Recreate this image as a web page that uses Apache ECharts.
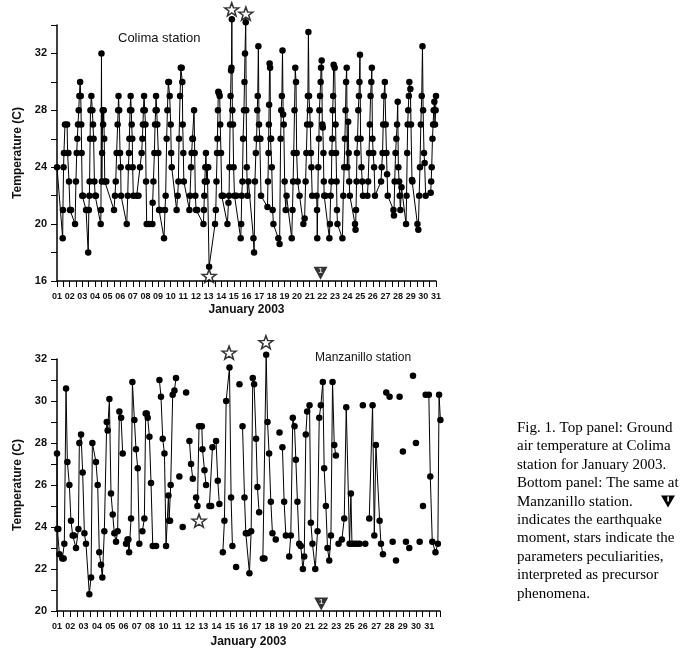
<!DOCTYPE html>
<html><head><meta charset="utf-8">
<script src="https://cdn.jsdelivr.net/npm/echarts/dist/echarts.min.js"></script>
<style>html,body{margin:0;padding:0;background:#fff}#c{width:692px;height:660px}</style>
</head><body><div id="c"></div>
<script>
// ---- Top panel: Colima station (time in days, temperature in C) ----
const colimaSeries = [
[1.00,24],[1.45,19],[1.47,21],[1.52,24],[1.55,25],[1.63,27],[1.80,27],[1.84,25],[1.90,25],[1.95,23],[2.03,21],[2.11,21],
[2.43,20],[2.50,23],[2.56,25],[2.61,26],[2.66,27],[2.72,28],[2.77,29],[2.83,30],[2.88,29],[2.92,27],[2.95,25],[3.00,22],[3.06,22],[3.30,21],[3.42,21],
[3.47,18],[3.52,21],[3.56,22],[3.58,23],[3.62,26],[3.65,28],[3.72,29],[3.80,28],[3.85,27],[3.90,26],[3.96,23],[4.02,22],[4.08,22],
[4.46,20],[4.48,21],[4.52,32],[4.55,23],[4.57,25],[4.62,28],[4.65,27],[4.70,28],[4.74,26],[4.78,23],[4.90,23],
[5.51,21],[5.59,22],[5.65,23],[5.72,25],[5.80,27],[5.84,28],[5.87,29],[5.92,28],[5.99,25],[6.04,24],[6.07,22],
[6.52,20],[6.60,22],[6.65,24],[6.70,25],[6.73,26],[6.78,28],[6.83,29],[6.88,28],[6.91,27],[6.96,26],[6.99,24],[7.04,22],[7.31,22],[7.45,22],
[7.57,24],[7.70,25],[7.76,26],[7.80,27],[7.84,28],[7.89,29],[7.95,28],[8.00,27],[8.05,23],[8.10,20],[8.30,20],
[8.55,20],[8.57,21.5],[8.63,23],[8.71,25],[8.76,27],[8.81,28],[8.84,29],[8.89,28],[8.94,27],[9.02,25],[9.08,21],[9.18,21],
[9.47,19],[9.55,21],[9.60,22],[9.68,26],[9.74,28],[9.81,30],[9.86,30],[9.92,29],[10.00,27],[10.04,25],[10.08,24],
[10.47,21],[10.55,22],[10.61,23],[10.66,26],[10.74,29],[10.80,31],[10.87,31],[10.92,30],[10.95,27],[11.00,25],[11.04,23],
[11.48,21],[11.53,22],[11.61,24],[11.66,25],[11.72,26],[11.76,26],[11.85,28],[11.90,25],[11.95,22],[12.01,21],[12.10,21],
[12.59,20],[12.63,21],[12.66,22],[12.70,23],[12.74,24],[12.79,25],[12.85,23],[12.90,24],[12.97,24],[13.04,17],
[13.51,20],[13.57,21],[13.62,23],[13.67,25],[13.70,26],[13.74,28],[13.77,29.3],[13.82,29.2],[13.88,29],[13.92,27],[13.98,25],[14.04,22],[14.15,22],
[14.49,20],[14.57,21.5],[14.62,22],[14.65,24],[14.70,27],[14.74,29],[14.78,30.8],[14.81,31],[14.84,34.4],[14.88,28],[14.93,27],[14.98,24],[15.05,22],[15.20,22],
[15.54,19],[15.58,20],[15.62,22],[15.68,23],[15.73,26],[15.80,28],[15.84,30],[15.88,32],[15.94,34.2],[15.98,28],[16.02,24],[16.08,22],[16.15,23],
[16.55,19],[16.60,18],[16.67,23],[16.74,25],[16.80,26],[16.85,28],[16.89,29],[16.94,32.5],[16.99,27],[17.05,26],[17.10,26],[17.15,22],
[17.66,21.2],[17.70,23],[17.74,25],[17.77,27],[17.79,28.4],[17.83,31.3],[17.87,31],[17.90,26],[17.95,26],[18.00,24],[18.07,21],[18.13,20],
[18.52,19],[18.62,18.6],[18.70,26],[18.75,28],[18.80,29],[18.85,32.2],[18.90,27.7],[18.95,27],[19.02,23],[19.10,21],[19.17,22],
[19.58,19],[19.64,21],[19.69,23],[19.74,25],[19.80,28],[19.86,31],[19.92,30],[19.97,25],[20.05,23],[20.20,22],
[20.50,20],[20.60,20.4],[20.68,23],[20.74,25],[20.80,27],[20.86,29],[20.90,33.5],[20.95,29],[21.00,28],[21.05,27],[21.10,25],[21.14,24],[21.20,22],
[21.55,22],[21.58,21],[21.60,19],[21.68,24],[21.73,26],[21.77,28],[21.82,29],[21.87,30],[21.90,31],[21.95,31.5],[22.00,27],[22.04,26.8],[22.09,25],[22.12,23],[22.15,22],[22.25,22],
[22.56,19],[22.60,20],[22.66,22],[22.72,23],[22.75,25],[22.79,26],[22.82,28],[22.86,29],[22.90,31.2],[22.98,31],[23.05,27],[23.09,25],[23.13,23],[23.16,21],[23.20,20],
[23.59,19],[23.66,22],[23.73,24],[23.79,26],[23.84,28],[23.88,30],[23.93,31],[23.98,24],[24.05,27.2],[24.09,25],[24.13,23],[24.18,22],
[24.59,20],[24.63,19.6],[24.67,21],[24.71,23],[24.74,25],[24.79,26],[24.85,28],[24.90,29],[24.94,30],[24.98,31.9],[25.03,26],[25.10,24],[25.16,23],[25.22,22],
[25.57,22],[25.63,23],[25.70,25],[25.76,27],[25.82,29],[25.88,30],[25.92,31],[25.97,26],[26.03,25],[26.10,24],[26.17,22],
[26.65,23],[26.70,24],[26.77,25],[26.82,27],[26.88,29],[26.95,30],[27.02,27],[27.08,25],[27.13,23.5],[27.18,22],
[27.63,21],[27.67,20.6],[27.73,23],[27.80,25],[27.86,26],[27.92,27],[27.97,28.6],[28.02,24],[28.08,23],[28.13,22],[28.18,21],[28.27,22.6],
[28.63,20],[28.67,22],[28.72,25],[28.76,27],[28.80,28],[28.85,29],[28.89,30],[28.97,29.5],[29.02,27],[29.10,23.1],[29.13,23],
[29.53,20],[29.60,19.6],[29.67,22],[29.73,24],[29.80,27],[29.87,29],[29.93,32.5],[29.98,28],[30.05,25],[30.10,24.3],[30.18,22],
[30.58,22.2],[30.62,23],[30.66,24],[30.72,26],[30.77,27],[30.82,28],[30.87,28.6],[30.92,27],[30.97,28],[31.00,29]
];
const colimaStars = [[14.83,35.1],[15.95,34.8],[13.04,16.35]];
const colimaQuake = [[21.86,16.55]];
const colimaTickLabels = ['01','02','03','04','05','06','07','08','09','10','11','12','13','14','15','16','17','18','19','20','21','22','23','24','25','26','27','28','29','30','31'];

// ---- Bottom panel: Manzanillo station (x = position among plotted days, null = gap) ----
const manzSeries = [
[0.00,27.5],[0.03,23.9],[0.10,23.9],[0.18,22.7],[0.40,22.5],[0.50,22.5],[0.55,23.2],[0.68,30.6],[0.78,27.1],[0.93,26.0],[1.05,24.3],[1.18,23.6],[1.28,23.6],[1.43,23.0],
[1.61,23.9],[1.68,28.0],[1.81,28.4],[1.93,26.6],[2.06,23.7],[2.18,23.2],[2.43,20.8],[2.56,21.6],[2.66,28.0],[2.93,27.1],[3.06,26.0],[3.18,22.8],[3.31,22.2],[3.41,21.6],
[3.56,23.8],[3.74,29.0],[3.81,28.6],[3.94,30.1],[4.06,25.6],[4.19,24.6],[4.31,23.7],[4.44,23.3],[4.56,23.8],[4.69,29.5],[4.82,29.2],[4.94,27.5],
null,
[5.19,23.2],[5.30,23.4],[5.37,23.4],[5.42,22.8],[5.57,24.4],[5.67,30.9],[5.82,29.1],[5.94,27.7],[6.07,26.8],[6.19,23.2],
null,
[6.42,23.8],[6.57,24.4],[6.67,29.4],[6.75,29.4],[6.82,29.2],[6.95,28.3],[7.07,26.1],[7.20,23.1],[7.45,23.1],
null,
[7.70,31.0],[7.82,30.2],[7.95,28.2],[8.08,27.5],[8.20,23.1],[8.38,25.5],[8.43,24.3],[8.50,24.3],[8.55,26.0],[8.70,30.3],[8.83,30.5],[8.95,31.1],
null,[9.20,26.4],null,[9.45,24.0],null,[9.71,30.4],null,
[9.96,28.1],[10.08,27.0],[10.21,26.3],
null,
[10.46,25.4],[10.56,25.0],[10.68,28.8],[10.89,28.8],[10.94,27.7],[11.09,26.7],[11.21,26.0],
null,
[11.46,25.0],[11.59,25.0],[11.69,27.8],[11.96,28.1],[12.09,26.2],[12.21,25.1],
null,
[12.47,22.8],[12.59,24.3],[12.72,30.0],[12.97,31.6],[13.09,25.4],[13.19,23.1],
null,[13.47,22.1],null,[13.72,30.8],null,
[13.95,28.8],[14.10,25.4],[14.20,23.7],[14.35,23.7],[14.47,21.8],[14.60,23.8],[14.72,31.1],[14.82,30.8],[14.97,28.2],[15.07,25.9],[15.20,24.7],
null,
[15.48,22.5],[15.60,22.5],[15.73,32.2],[15.83,29.0],[15.95,27.5],[16.08,25.2],[16.20,23.7],[16.45,23.4],
null,[16.73,28.5],null,
[16.95,27.8],[17.08,25.2],[17.21,23.6],
null,
[17.46,22.6],[17.58,23.6],[17.73,29.2],[17.86,28.8],[17.96,27.2],[18.08,25.2],[18.21,23.2],[18.33,23.1],[18.49,22.0],[18.59,22.6],[18.71,28.4],[18.81,29.5],
[18.99,29.8],[19.09,24.2],[19.21,23.2],[19.42,22.0],[19.59,23.8],[19.72,29.2],[19.84,29.8],[19.99,30.9],[20.09,26.8],[20.22,25.0],[20.34,23.0],[20.47,22.4],
[20.60,23.6],[20.72,30.9],[20.85,27.9],[20.97,27.4],
null,
[21.17,23.2],[21.42,23.4],[21.60,24.4],[21.75,29.7],[22.00,23.2],[22.10,25.6],[22.18,23.2],[22.35,23.2],[22.55,23.2],[22.75,23.2],
null,[23.00,29.8],null,[23.18,23.2],null,
[23.48,24.4],[23.73,29.8],[23.86,23.6],[23.98,27.9],[24.26,24.3],[24.36,23.2],[24.51,22.7],
null,[24.76,30.4],null,[25.01,30.2],null,[25.24,23.3],null,[25.49,22.4],null,[25.76,30.2],null,[26.01,27.6],null,
[26.24,23.3],null,[26.49,23.0],null,[26.77,31.2],null,[26.99,28.0],null,[27.27,23.3],null,[27.52,25.0],null,
[27.72,30.3],[27.96,30.3],[28.07,26.4],[28.22,23.3],[28.46,22.8],[28.64,23.2],[28.73,30.3],[28.83,29.1]
];
const manzStars = [[12.94,32.3],[10.68,24.3],[15.71,32.8]];
const manzQuake = [[19.87,20.33]];
const manzTickLabels = ['01','02','03','04','05','06','07','08','10','11','12','13','14','15','16','17','18','19','20','21','22','23','25','26','27','28','29','30','31'];

const captionLines = [
  'Fig. 1. Top panel: Ground',
  'air temperature at Colima',
  'station for January 2003.',
  'Bottom panel: The same at',
  'Manzanillo station.',
  'indicates the earthquake',
  'moment, stars indicate the',
  'parameters peculiarities,',
  'interpreted as precursor',
  'phenomena.'
];

const STAR = 'path://M12,0.5L14.9,8.6L23.5,8.8L16.7,14L19.1,22.3L12,17.4L4.9,22.3L7.3,14L0.5,8.8L9.1,8.6Z';
const sansBold = {fontFamily:'"Liberation Sans", Arial, sans-serif', fontWeight:'bold', color:'#111'};

function xAxisCfg(grid, min, max, labels, offsetIdx, nameGap) {
  return {
    type:'value', gridIndex:grid, min:min, max:max, interval:0.5,
    axisLine:{show:true, onZero:false, lineStyle:{color:'#000', width:1.5}},
    axisTick:{show:true, length:6, lineStyle:{color:'#000', width:1}},
    splitLine:{show:false},
    axisLabel:Object.assign({margin:11, fontSize:9,
      formatter:function(v){ if (Math.abs(v-Math.round(v))>1e-6) return ''; const i=Math.round(v)-offsetIdx; return labels[i]||''; }}, sansBold),
    name:'January 2003', nameLocation:'middle', nameGap:nameGap,
    nameTextStyle:Object.assign({fontSize:12}, sansBold)
  };
}
function yAxisCfg(grid, min, max, interval, labelStep) {
  return {
    type:'value', gridIndex:grid, min:min, max:max, interval:interval,
    axisLine:{show:true, onZero:false, lineStyle:{color:'#000', width:1.5}},
    axisTick:{show:true, length:6, lineStyle:{color:'#000', width:1}},
    splitLine:{show:false},
    axisLabel:Object.assign({margin:10, fontSize:11,
      formatter:function(v){ return (Math.abs(v % labelStep) < 1e-6 && v <= 32) ? String(v) : ''; }}, sansBold),
    name:'Temperature (C)', nameLocation:'middle', nameGap:25, nameRotate:90,
    nameTextStyle:Object.assign({fontSize:12}, sansBold)
  };
}

const chart = echarts.init(document.getElementById('c'), null, {renderer:'canvas'});
const quakeLabel = {show:true, formatter:'1', position:'inside', offset:[0,-2], color:'#fff', fontSize:8, fontWeight:'bold', fontFamily:'"Liberation Sans", sans-serif'};

const capX = 517, capY0 = 428, capDy = 18.4;
const graphics = [
  {type:'text', left:118, top:32, style:{text:'Colima station', font:'13px "Liberation Sans", Arial, sans-serif', fill:'#111'}},
  {type:'text', left:315, top:352, style:{text:'Manzanillo station', font:'12px "Liberation Sans", Arial, sans-serif', fill:'#111'}},
  {type:'polygon', shape:{points:[[661,capY0+4*capDy-6],[675,capY0+4*capDy-6],[668,capY0+4*capDy+6]]}, style:{fill:'#000'}},
  {type:'rect', shape:{x:667.3,y:capY0+4*capDy-5,width:1.6,height:5}, style:{fill:'#fff'}}
];
captionLines.forEach(function(t, i){
  graphics.push({type:'text', x:capX, y:capY0 + i*capDy, style:{text:t, font:'15px "Liberation Serif", "Times New Roman", serif', fill:'#000', verticalAlign:'middle', textVerticalAlign:'middle'}});
});

chart.setOption({
  animation:false,
  backgroundColor:'#fff',
  grid:[
    {left:57, right:256, top:25, bottom:379, containLabel:false},
    {left:57, right:252, top:359, bottom:49, containLabel:false}
  ],
  xAxis:[ xAxisCfg(0, 1, 31, colimaTickLabels, 1, 23), xAxisCfg(1, 0, 28.8, manzTickLabels, 0, 25) ],
  yAxis:[ yAxisCfg(0, 16, 34, 2, 4), yAxisCfg(1, 20, 32, 1, 2) ],
  series:[
    {type:'line', xAxisIndex:0, yAxisIndex:0, data:colimaSeries, symbol:'circle', symbolSize:6.5, showSymbol:true,
     itemStyle:{color:'#000'}, lineStyle:{color:'#000', width:1}, clip:false, z:3},
    {type:'scatter', xAxisIndex:0, yAxisIndex:0, data:colimaStars, symbol:STAR, symbolSize:[14,13],
     itemStyle:{color:'#fff', borderColor:'#000', borderWidth:1.5}, clip:false, z:4},
    {type:'scatter', xAxisIndex:0, yAxisIndex:0, data:colimaQuake, symbol:'triangle', symbolRotate:180, symbolSize:[14,13],
     itemStyle:{color:'#000'}, label:quakeLabel, clip:false, z:4},
    {type:'line', xAxisIndex:1, yAxisIndex:1, data:manzSeries, connectNulls:false, symbol:'circle', symbolSize:6.5, showSymbol:true,
     itemStyle:{color:'#000'}, lineStyle:{color:'#000', width:1}, clip:false, z:3},
    {type:'scatter', xAxisIndex:1, yAxisIndex:1, data:manzStars, symbol:STAR, symbolSize:[14,13],
     itemStyle:{color:'#fff', borderColor:'#000', borderWidth:1.5}, clip:false, z:4},
    {type:'scatter', xAxisIndex:1, yAxisIndex:1, data:manzQuake, symbol:'triangle', symbolRotate:180, symbolSize:[14,13],
     itemStyle:{color:'#000'}, label:quakeLabel, clip:false, z:4}
  ],
  graphic:graphics
});
</script>
</body></html>
